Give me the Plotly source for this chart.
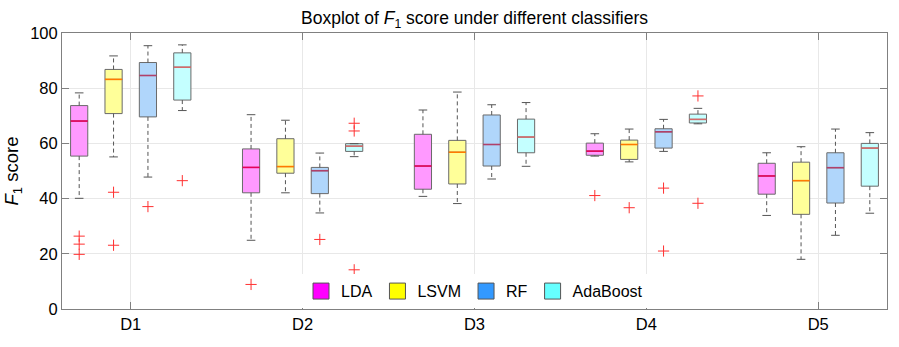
import plotly.graph_objects as go

datasets = ["D1", "D2", "D3", "D4", "D5"]
classifiers = ["LDA", "LSVM", "RF", "AdaBoost"]

lda_lo = [40.1, 24.9, 40.8, 55.4, 33.9]
lda_q1 = [55.4, 42.1, 43.4, 55.7, 41.6]
lda_med = [68.1, 51.3, 51.8, 57.2, 48.2]
lda_q3 = [73.7, 58.0, 63.3, 60.1, 52.8]
lda_hi = [78.3, 70.4, 72.1, 63.5, 56.6]
lda_out = [[26.4, 23.5, 19.8], [8.9], [], [41.1], []]

lsvm_lo = [55.1, 42.1, 38.2, 53.3, 18.0]
lsvm_q1 = [70.8, 49.2, 45.3, 54.2, 34.3]
lsvm_med = [83.2, 51.6, 56.8, 59.6, 46.5]
lsvm_q3 = [86.8, 61.7, 61.1, 61.2, 53.2]
lsvm_hi = [91.7, 68.4, 78.6, 65.2, 58.8]
lsvm_out = [[42.3, 23.1], [], [], [36.7], []]

rf_lo = [47.8, 34.8, 47.1, 57.1, 26.7]
rf_q1 = [69.6, 41.8, 51.8, 58.3, 38.4]
rf_med = [84.6, 50.1, 59.6, 64.2, 51.2]
rf_q3 = [89.3, 51.3, 70.3, 65.3, 56.6]
rf_hi = [95.4, 56.5, 74.0, 68.7, 65.2]
rf_out = [[37.1], [25.2], [], [43.8, 21.0], []]

ada_lo = [71.9, 55.2, 51.7, 67.1, 34.7]
ada_q1 = [75.7, 57.1, 56.6, 67.4, 44.5]
ada_med = [87.6, 59.0, 62.3, 68.7, 58.3]
ada_q3 = [92.8, 59.9, 68.8, 70.6, 60.0]
ada_hi = [95.7, 59.9, 74.8, 72.7, 63.9]
ada_out = [[46.5], [67.3, 64.5, 14.2], [], [77.2, 38.3], []]

yticks = [0, 20, 40, 60, 80, 100]

stats = [
    (lda_lo, lda_q1, lda_med, lda_q3, lda_hi, lda_out),
    (lsvm_lo, lsvm_q1, lsvm_med, lsvm_q3, lsvm_hi, lsvm_out),
    (rf_lo, rf_q1, rf_med, rf_q3, rf_hi, rf_out),
    (ada_lo, ada_q1, ada_med, ada_q3, ada_hi, ada_out),
]

fill_colors = ["#ff99ff", "#ffff99", "#b0d6fb", "#c4ffff"]
legend_colors = ["#ff00ff", "#ffff00", "#3399ff", "#66ffff"]
median_colors = ["#e8005a", "#ff7a00", "#b0406a", "#d46a6a"]
edge_color = "#6a6a6a"
whisker_color = "#555555"

BOXW = 0.1
CAPW = 0.05
FONT = "Liberation Sans, Arial, sans-serif"

fig = go.Figure()

cats = list(range(1, len(datasets) + 1))

for k, name in enumerate(classifiers):
    lo, q1, med, q3, hi, out = stats[k]
    off = (k - 1.5) * 0.2
    xs = [c + off for c in cats]
    fig.add_trace(go.Box(
        x=xs, q1=q1, median=med, q3=q3, lowerfence=q1, upperfence=q3,
        width=BOXW, whiskerwidth=0, boxpoints=False,
        fillcolor=fill_colors[k], line=dict(color=edge_color, width=1),
        showlegend=False, hoverinfo="skip",
    ))
    wx, wy = [], []
    cx, cy = [], []
    mx, my = [], []
    for i, x in enumerate(xs):
        if hi[i] > q3[i]:
            wx += [x, x, None]
            wy += [q3[i], hi[i], None]
        if lo[i] < q1[i]:
            wx += [x, x, None]
            wy += [q1[i], lo[i], None]
        cx += [x - CAPW / 2, x + CAPW / 2, None, x - CAPW / 2, x + CAPW / 2, None]
        cy += [hi[i], hi[i], None, lo[i], lo[i], None]
        mx += [x - BOXW / 2, x + BOXW / 2, None]
        my += [med[i], med[i], None]
    fig.add_trace(go.Scatter(x=wx, y=wy, mode="lines",
                             line=dict(color=whisker_color, width=1, dash="4px,3px"),
                             showlegend=False, hoverinfo="skip"))
    fig.add_trace(go.Scatter(x=cx, y=cy, mode="lines",
                             line=dict(color=whisker_color, width=1),
                             showlegend=False, hoverinfo="skip"))
    fig.add_trace(go.Scatter(x=mx, y=my, mode="lines",
                             line=dict(color=median_colors[k], width=1.6),
                             showlegend=False, hoverinfo="skip"))
    ox, oy = [], []
    for i, x in enumerate(xs):
        for v in out[i]:
            ox.append(x)
            oy.append(v)
    fig.add_trace(go.Scatter(x=ox, y=oy, mode="markers",
                             marker=dict(symbol="cross-thin", size=8,
                                         line=dict(color="#ff3030", width=1)),
                             showlegend=False, hoverinfo="skip"))

for k, name in enumerate(classifiers):
    fig.add_trace(go.Scatter(
        x=[None], y=[None], mode="markers", name=name,
        marker=dict(symbol="square", size=16, color=legend_colors[k],
                    line=dict(color="#555555", width=1)),
    ))

fig.update_layout(
    width=899, height=347,
    margin=dict(l=59, r=11, t=33, b=38),
    paper_bgcolor="white", plot_bgcolor="white",
    font=dict(family=FONT, size=16, color="black"),
    title=dict(text="Boxplot of <i>F</i><sub>1</sub> score under different classifiers",
               x=0.5, xref="paper", xanchor="center", y=0.948, yanchor="middle",
               font=dict(size=17.5, family=FONT, color="black")),
    showlegend=True,
    legend=dict(orientation="h", x=0.5, xanchor="center", y=0.003, yanchor="bottom",
                bgcolor="white", borderwidth=0, font=dict(size=16, family=FONT),
                itemwidth=30, tracegroupgap=0),
)

fig.update_xaxes(
    range=[0.6, 5.4], tickmode="array", tickvals=cats, ticktext=datasets,
    showgrid=True, gridcolor="#e8e8e8", gridwidth=1,
    showline=True, linecolor="#808080", linewidth=1, mirror="ticks",
    ticks="inside", ticklen=7, tickcolor="#808080", zeroline=False,
    tickfont=dict(size=16.5),
)
fig.update_yaxes(
    range=[0, 100], tickmode="array", tickvals=yticks,
    showgrid=True, gridcolor="#e8e8e8", gridwidth=1,
    showline=True, linecolor="#808080", linewidth=1, mirror="ticks",
    ticks="inside", ticklen=7, tickcolor="#808080", zeroline=False,
    tickfont=dict(size=16.5),
    title=dict(text="<i>F</i><sub>1</sub> score", font=dict(size=18.5), standoff=6),
)

fig.write_html("out.html")
